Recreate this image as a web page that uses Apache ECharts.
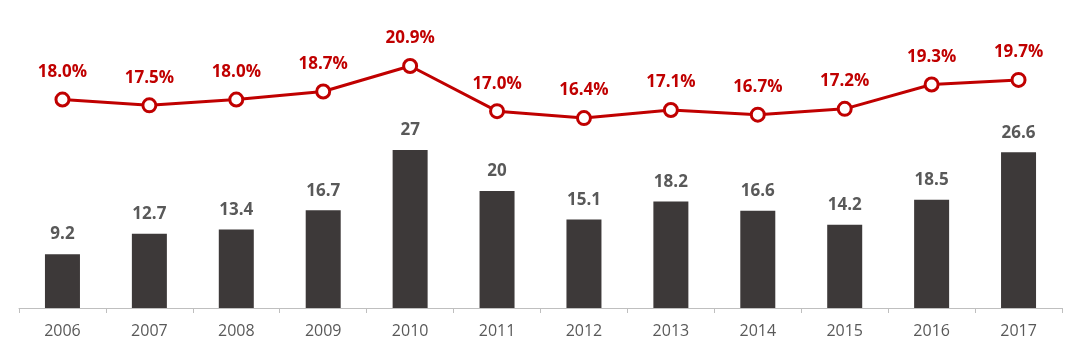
<!DOCTYPE html>
<html>
<head>
<meta charset="utf-8">
<script src="https://cdn.jsdelivr.net/npm/echarts@6/dist/echarts.min.js"></script>
<style>
  html, body { margin: 0; padding: 0; background: #fff; }
  #chart { width: 1080px; height: 354px; }
</style>
</head>
<body>
<div id="chart"></div>
<script>
// 年份
const years = ["2006", "2007", "2008", "2009", "2010", "2011", "2012", "2013", "2014", "2015", "2016", "2017"];
// 柱状值
const barValues = [9.2, 12.7, 13.4, 16.7, 27, 20, 15.1, 18.2, 16.6, 14.2, 18.5, 26.6];
// 折线百分比
const rateValues = [18.0, 17.5, 18.0, 18.7, 20.9, 17.0, 16.4, 17.1, 16.7, 17.2, 19.3, 19.7];

const chart = echarts.init(document.getElementById("chart"));
chart.setOption({
  animation: false,
  textStyle: { fontFamily: "Open Sans, Noto Sans, sans-serif" },
  grid: { left: 19, right: 18, top: 0, bottom: 46 },
  xAxis: {
    type: "category",
    data: years,
    axisLine: { lineStyle: { color: "#bfbfbf", width: 1 } },
    axisTick: { show: true, length: 5, lineStyle: { color: "#bfbfbf" } },
    axisLabel: { color: "#595959", fontSize: 16, margin: 15 },
  },
  yAxis: [
    { type: "value", min: 0, max: 52.6, show: false, splitLine: { show: false } },
    { type: "value", min: 0, max: 26.6, show: false, splitLine: { show: false } },
  ],
  series: [
    {
      type: "bar",
      data: barValues,
      barWidth: 35,
      yAxisIndex: 0,
      itemStyle: { color: "#3d3939" },
      label: {
        show: true,
        position: "top",
        distance: 11,
        color: "#595959",
        fontSize: 17,
        fontWeight: "bold",
      },
    },
    {
      type: "line",
      data: rateValues,
      yAxisIndex: 1,
      symbol: "circle",
      symbolSize: 13,
      lineStyle: { color: "#c00000", width: 3 },
      itemStyle: { color: "#fff", borderColor: "#c00000", borderWidth: 3 },
      label: {
        show: true,
        position: "top",
        distance: 11,
        color: "#c00000",
        fontSize: 17,
        fontWeight: "bold",
        formatter: (p) => p.value.toFixed(1) + "%",
      },
    },
  ],
});
</script>
</body>
</html>
